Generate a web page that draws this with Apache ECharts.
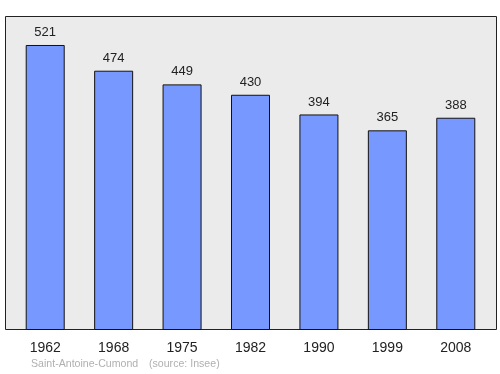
<!DOCTYPE html>
<html><head><meta charset="utf-8">
<script src="https://cdn.jsdelivr.net/npm/echarts@6/dist/echarts.min.js"></script>
<style>html,body{margin:0;padding:0;background:#fff}#c{width:500px;height:374px}</style>
</head><body><div id="c"></div>
<script>
const categories = ['1962','1968','1975','1982','1990','1999','2008'];
const population = [521,474,449,430,394,365,388];
const sourceLeft = 'Saint-Antoine-Cumond';
const sourceRight = '(source: Insee)';

const chart = echarts.init(document.getElementById('c'), null, {renderer:'canvas'});
chart.setOption({
  animation:false,
  grid:{left:11, width:479, top:16, bottom:44},
  graphic:[
    {type:'rect', z:-10, shape:{x:5.5,y:16.5,width:491,height:313}, style:{fill:'#ebebeb', stroke:'#222', lineWidth:1}},
    {type:'text', left:31, top:359, style:{text:sourceLeft, fill:'#b0b0b0', font:'10.6px "Liberation Sans", Arial, sans-serif'}},
    {type:'text', left:149, top:359, style:{text:sourceRight, fill:'#b0b0b0', font:'10.6px "Liberation Sans", Arial, sans-serif'}}
  ],
  xAxis:{type:'category', data:categories, axisLine:{show:false}, axisTick:{show:false},
    axisLabel:{color:'#222', fontSize:14, fontFamily:'"Liberation Sans", Arial, sans-serif', margin:11}},
  yAxis:{type:'value', min:0, max:574, show:false, splitLine:{show:false}},
  series:[{type:'bar', data:population, barWidth:39,
    itemStyle:{color:'#7799ff', borderColor:'#111', borderWidth:1},
    label:{show:true, position:'top', distance:6, color:'#222', fontSize:13, fontFamily:'"Liberation Sans", Arial, sans-serif'}}]
});
</script></body></html>
